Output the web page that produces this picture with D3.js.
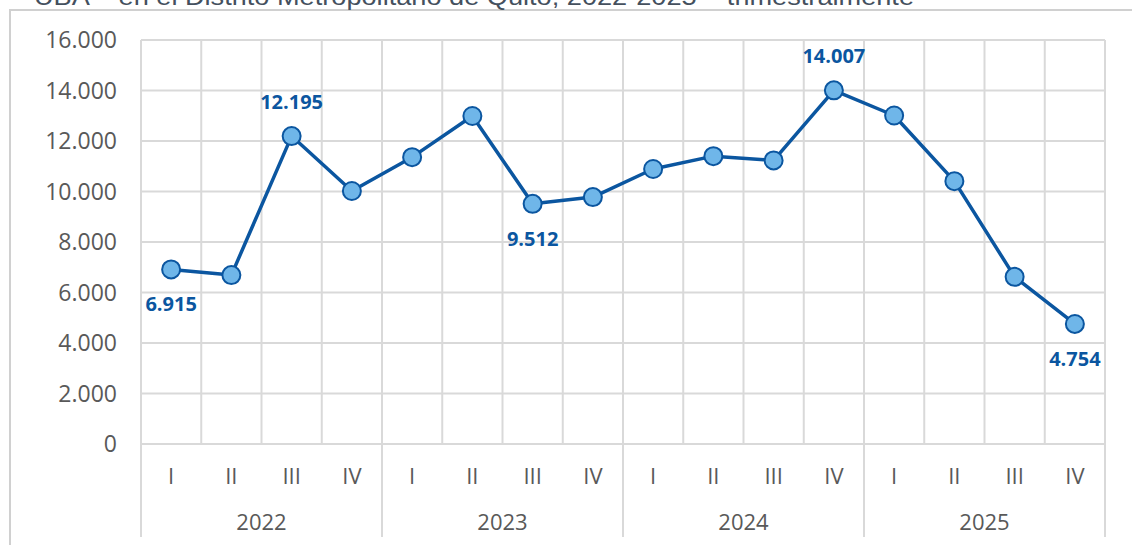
<!DOCTYPE html>
<html>
<head>
<meta charset="utf-8">
<script src="https://cdn.jsdelivr.net/npm/d3@7"></script>
<style>
  body { margin: 0; background: #fff; }
  svg { display: block; }
</style>
</head>
<body>
<svg id="chart" width="1132" height="545"></svg>
<script>
(function() {
    const years = ["2022", "2023", "2024", "2025"];
    const quarters = ["I", "II", "III", "IV"];
    const values = [6915, 6690, 12195, 10020, 11360, 12990, 9512, 9780,
                    10890, 11400, 11230, 14007, 13010, 10410, 6620, 4754];
    const labelled = [0, 2, 6, 11, 15];
    const yTicks = [0, 2000, 4000, 6000, 8000, 10000, 12000, 14000, 16000];
    const title = "UBA – en el Distrito Metropolitano de Quito, 2022-2025 – trimestralmente";

    const left = 141, right = 1105, top = 40, bottom = 444;

    const svg = d3.select("#chart");

    const locale = d3.formatLocale({ decimal: ",", thousands: ".", grouping: [3], currency: ["$", ""] });
    const fmt = locale.format(",d");

    const cats = [];
    years.forEach(y => quarters.forEach(q => cats.push(y + "-" + q)));
    const points = values.map((v, i) => ({ key: cats[i], q: quarters[i % 4], v: v, i: i }));

    const x = d3.scaleBand().domain(cats).range([left, right]);
    const y = d3.scaleLinear().domain([0, 16000]).range([bottom, top]);

    // outer frame + title (cut by the top edge, as in the source)
    svg.append("rect")
        .attr("x", 10).attr("y", 10)
        .attr("width", 1140).attr("height", 600)
        .attr("fill", "none")
        .attr("stroke", "#d0d0d0")
        .attr("stroke-width", 2);

    svg.append("text")
        .attr("x", 34).attr("y", 5)
        .attr("font-family", "Liberation Sans, Arial, sans-serif")
        .attr("font-size", 24)
        .attr("textLength", 880)
        .attr("lengthAdjust", "spacingAndGlyphs")
        .attr("fill", "#44505e")
        .text(title);

    const grid = svg.append("g").attr("stroke", "#d9d9d9").attr("stroke-width", 2);

    grid.selectAll(".h")
        .data(yTicks)
        .enter().append("line")
        .attr("x1", left).attr("x2", right)
        .attr("y1", d => y(d)).attr("y2", d => y(d));

    const bounds = cats.map(c => x(c)).concat([right]);
    grid.selectAll(".v")
        .data(bounds)
        .enter().append("line")
        .attr("x1", d => d).attr("x2", d => d)
        .attr("y1", top)
        .attr("y2", (d, i) => i % 4 === 0 ? 537 : bottom);

    // y axis labels
    svg.append("g").selectAll("text")
        .data(yTicks)
        .enter().append("text")
        .attr("x", 117)
        .attr("y", d => y(d))
        .attr("dy", "0.35em")
        .attr("text-anchor", "end")
        .attr("font-family", "Open Sans, sans-serif")
        .attr("font-size", 23)
        .attr("fill", "#595959")
        .text(d => fmt(d));

    // quarter labels
    svg.append("g").selectAll("text")
        .data(points)
        .enter().append("text")
        .attr("x", d => x(d.key) + x.bandwidth() / 2)
        .attr("y", 476)
        .attr("dy", "0.35em")
        .attr("text-anchor", "middle")
        .attr("font-family", "Open Sans, sans-serif")
        .attr("font-size", 22)
        .attr("fill", "#595959")
        .text(d => d.q);

    // year labels
    svg.append("g").selectAll("text")
        .data(years)
        .enter().append("text")
        .attr("x", (d, i) => x(cats[i * 4]) + x.bandwidth() * 2)
        .attr("y", 522)
        .attr("dy", "0.35em")
        .attr("text-anchor", "middle")
        .attr("font-family", "Open Sans, sans-serif")
        .attr("font-size", 22)
        .attr("fill", "#595959")
        .text(d => d);

    const line = d3.line()
        .x(d => x(d.key) + x.bandwidth() / 2)
        .y(d => y(d.v));

    svg.append("path")
        .datum(points)
        .attr("d", line)
        .attr("fill", "none")
        .attr("stroke", "#0b56a0")
        .attr("stroke-width", 3.5)
        .attr("stroke-linejoin", "round");

    svg.append("g").selectAll("circle")
        .data(points)
        .enter().append("circle")
        .attr("cx", d => x(d.key) + x.bandwidth() / 2)
        .attr("cy", d => y(d.v))
        .attr("r", 9)
        .attr("fill", "#6fb6e9")
        .attr("stroke", "#0b56a0")
        .attr("stroke-width", 2);

    svg.append("g").selectAll("text")
        .data(points.filter(d => labelled.includes(d.i)))
        .enter().append("text")
        .attr("x", d => x(d.key) + x.bandwidth() / 2)
        .attr("y", d => y(d.v) + (d.v >= 12000 ? -34 : 35))
        .attr("dy", "0.35em")
        .attr("text-anchor", "middle")
        .attr("font-family", "Open Sans, sans-serif")
        .attr("font-weight", "bold")
        .attr("font-size", 20)
        .attr("fill", "#0b56a0")
        .text(d => fmt(d.v));
})();
</script>
</body>
</html>
